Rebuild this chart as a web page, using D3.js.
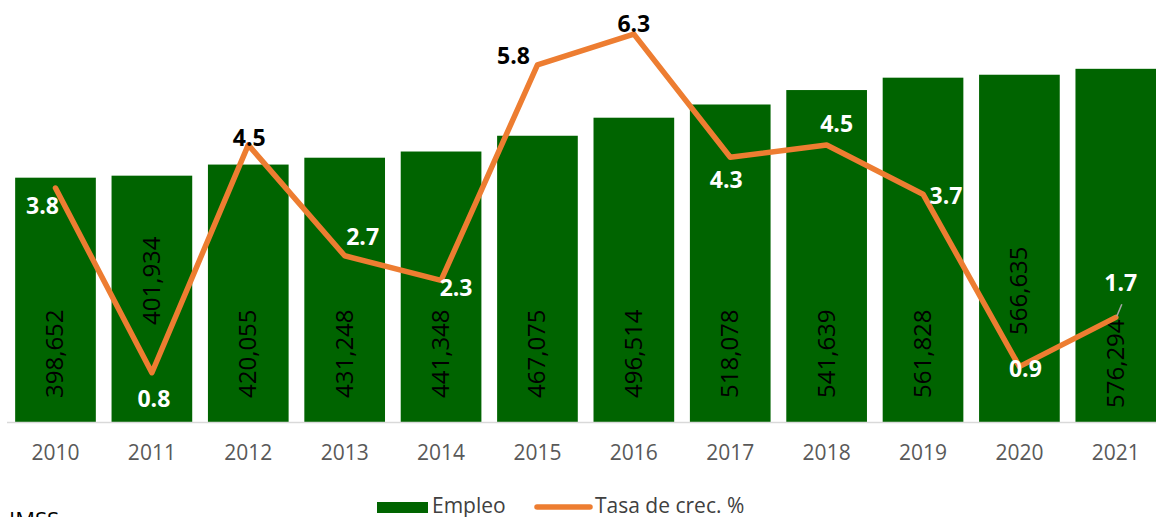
<!DOCTYPE html>
<html>
<head>
<meta charset="utf-8">
<script src="https://cdn.jsdelivr.net/npm/d3@7"></script>
<style>
  body { margin: 0; background: #fff; }
  svg { display: block; }
</style>
</head>
<body>
<svg class="vis" width="1156" height="517"></svg>
<script>
// Empleo y tasa de crecimiento

var years = ["2010", "2011", "2012", "2013", "2014", "2015", "2016", "2017", "2018", "2019", "2020", "2021"];
var empleo = [398652, 401934, 420055, 431248, 441348, 467075, 496514, 518078, 541639, 561828, 566635, 576294];
var tasa = [3.8, 0.8, 4.5, 2.7, 2.3, 5.8, 6.3, 4.3, 4.5, 3.7, 0.9, 1.7];

// label placement for the line labels (dx, dy from the point)
var tasaLabelPos = [[-13, 18], [2, 26], [1, -7], [18, -19], [15, 8], [-24, -9],
                    [0, -10], [-4, 23], [10, -21], [23, 2], [6, 2], [5, -34]];
var tasaLabelColor = ["#fff", "#fff", "#000", "#fff", "#fff", "#000",
                      "#000", "#fff", "#fff", "#fff", "#fff", "#fff"];
// where the bar values sit (distance of the text end above the base)
var barLabelLift = [24, 97, 24, 24, 24, 24, 24, 24, 24, 24, 87, 14];

var svg = d3.select(".vis");
var font = "'Open Sans', sans-serif";

var baseY = 422;
var x = d3.scaleBand()
    .domain(years)
    .range([7.3, 1164])
    .paddingInner(0.163)
    .paddingOuter(0.0815);

var y = d3.scaleLinear().domain([0, 700000]).range([baseY, -7]);
var y2 = d3.scaleLinear().domain([0, 7]).range([baseY, -9]);

// bars
svg.selectAll(".bar")
    .data(empleo)
    .join("rect")
    .attr("class", "bar")
    .attr("x", function (d, i) { return x(years[i]); })
    .attr("y", function (d) { return y(d); })
    .attr("width", x.bandwidth())
    .attr("height", function (d) { return baseY - y(d); })
    .attr("fill", "#006400");

// axis line
svg.append("line")
    .attr("x1", 7)
    .attr("x2", 1156)
    .attr("y1", baseY + 0.5)
    .attr("y2", baseY + 0.5)
    .attr("stroke", "#d9d9d9")
    .attr("stroke-width", 1.5);

var xAxis = svg.append("g")
    .attr("transform", `translate(0, ${baseY})`)
    .call(d3.axisBottom(x).tickSize(0).tickPadding(23));
xAxis.select(".domain").remove();
xAxis.selectAll("text")
    .attr("font-family", font)
    .attr("font-size", "21px")
    .attr("fill", "#595959");

// bar values (rotated)
svg.selectAll(".barLabel")
    .data(empleo)
    .join("text")
    .attr("class", "barLabel")
    .attr("transform", function (d, i) {
        return `translate(${x(years[i]) + x.bandwidth() / 2 + 8}, ${baseY - barLabelLift[i]}) rotate(-90)`;
    })
    .attr("font-family", font)
    .attr("font-size", "24px")
    .attr("fill", "#000")
    .text(function (d) { return d3.format(",")(d); });

// line
var line = d3.line()
    .x(function (d, i) { return x(years[i]) + x.bandwidth() / 2; })
    .y(function (d) { return y2(d); });

svg.append("path")
    .datum(tasa)
    .attr("d", line)
    .attr("fill", "none")
    .attr("stroke", "#ED7D31")
    .attr("stroke-width", 5.5)
    .attr("stroke-linejoin", "round")
    .attr("stroke-linecap", "round");

// leader line for last label
var lastI = tasa.length - 1;
svg.append("line")
    .attr("x1", x(years[lastI]) + x.bandwidth() / 2 + 1)
    .attr("y1", y2(tasa[lastI]) - 1)
    .attr("x2", x(years[lastI]) + x.bandwidth() / 2 + 6)
    .attr("y2", y2(tasa[lastI]) - 13)
    .attr("stroke", "#a6a6a6")
    .attr("stroke-width", 1.5);

svg.selectAll(".tasaLabel")
    .data(tasa)
    .join("text")
    .attr("class", "tasaLabel")
    .attr("x", function (d, i) { return x(years[i]) + x.bandwidth() / 2 + tasaLabelPos[i][0]; })
    .attr("y", function (d, i) { return y2(d) + tasaLabelPos[i][1]; })
    .attr("dy", "0.35em")
    .attr("text-anchor", "middle")
    .attr("font-family", font)
    .attr("font-size", "23px")
    .attr("font-weight", "bold")
    .attr("fill", function (d, i) { return tasaLabelColor[i]; })
    .text(function (d) { return d3.format(".1f")(d); });

// legend (cut by the bottom edge, as in the original)
var legend = svg.append("g");
legend.append("rect")
    .attr("x", 377)
    .attr("y", 502)
    .attr("width", 51)
    .attr("height", 11)
    .attr("fill", "#006400");
legend.append("text")
    .attr("x", 432)
    .attr("y", 513)
    .attr("font-family", font)
    .attr("font-size", "21px")
    .attr("fill", "#404040")
    .text("Empleo");
legend.append("line")
    .attr("x1", 537)
    .attr("x2", 590)
    .attr("y1", 507)
    .attr("y2", 507)
    .attr("stroke", "#ED7D31")
    .attr("stroke-width", 5.5)
    .attr("stroke-linecap", "round");
legend.append("text")
    .attr("x", 595)
    .attr("y", 513)
    .attr("font-family", font)
    .attr("font-size", "21px")
    .attr("fill", "#404040")
    .text("Tasa de crec. %");

// source note (only its top shows)
svg.append("text")
    .attr("x", 9)
    .attr("y", 528)
    .attr("font-family", font)
    .attr("font-size", "22px")
    .attr("fill", "#000")
    .text("IMSS");
</script>
</body>
</html>
